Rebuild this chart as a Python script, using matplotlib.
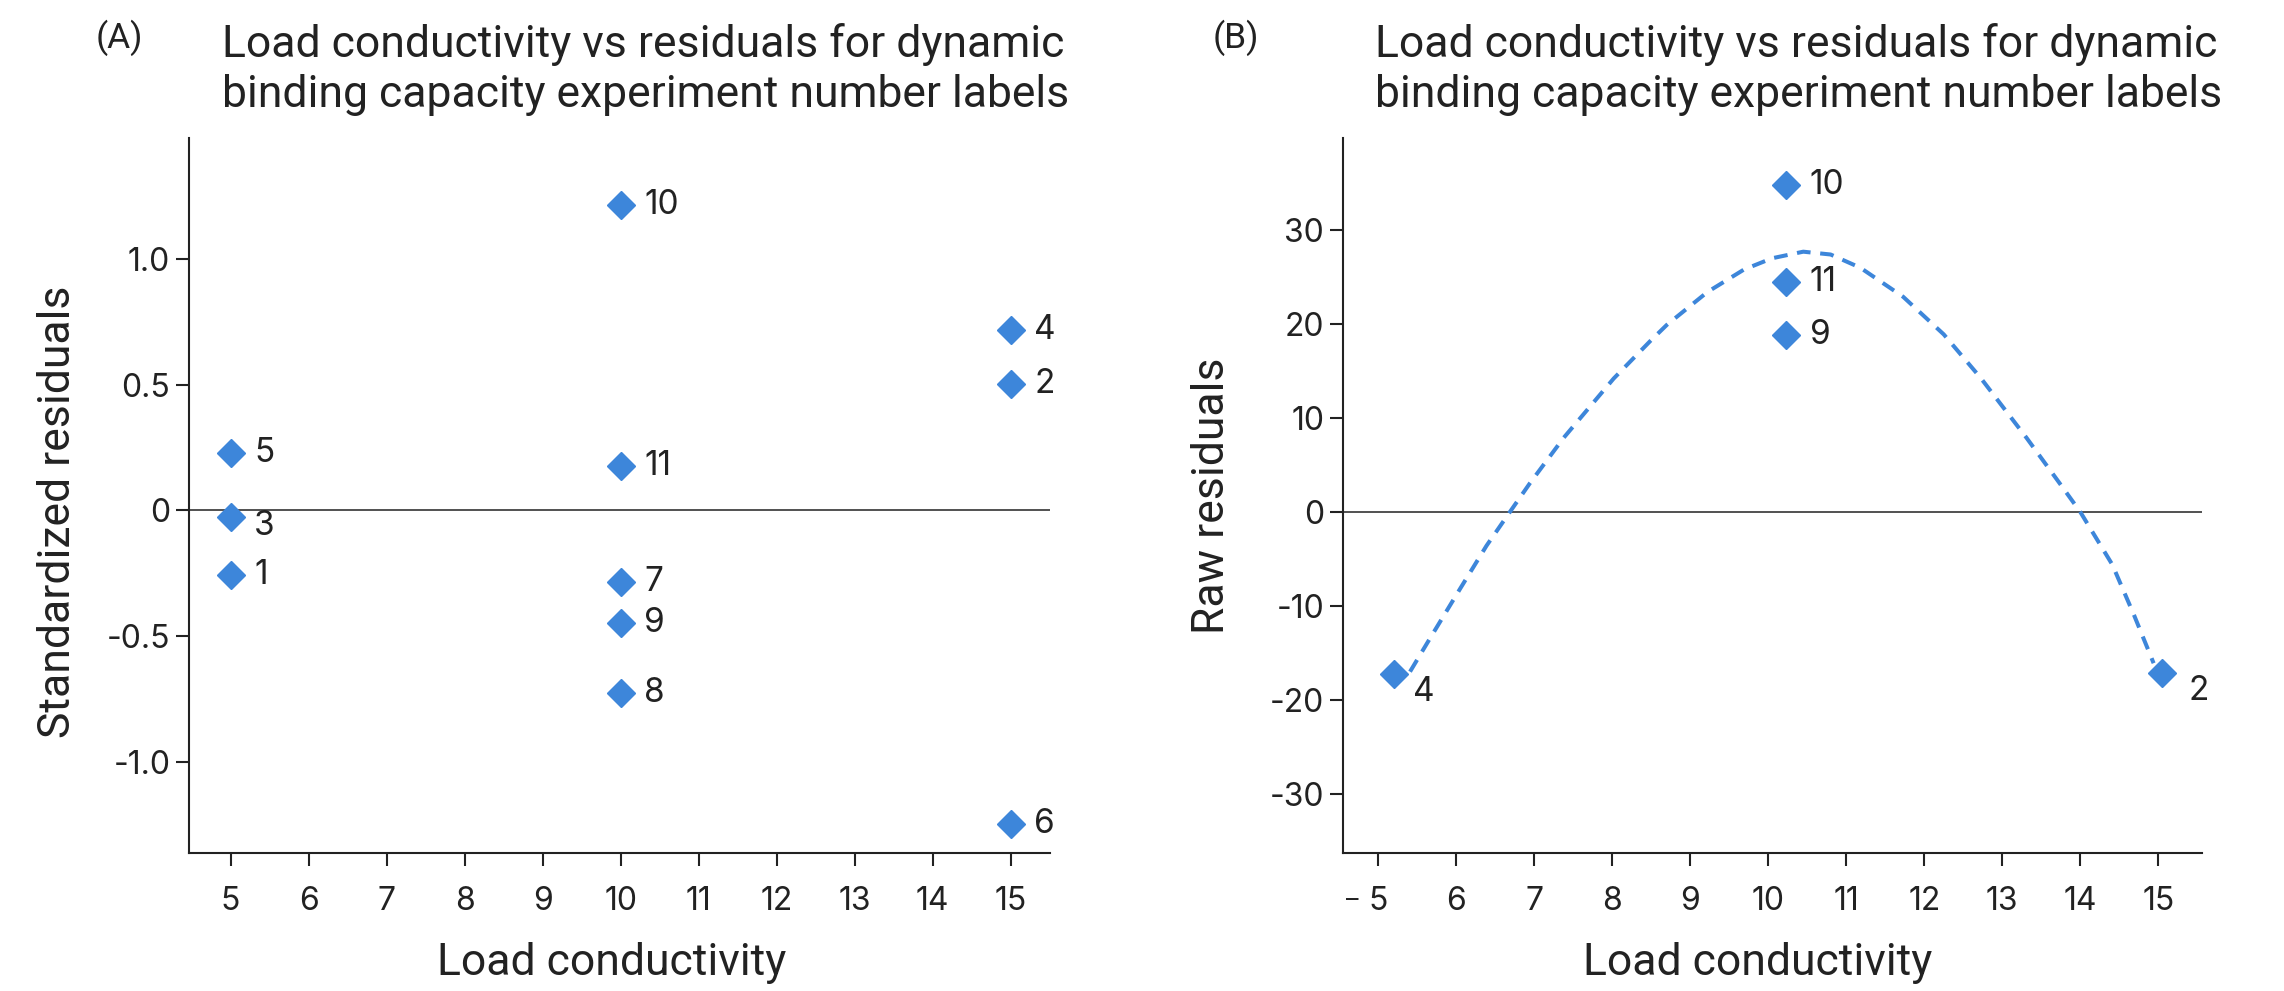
import numpy as np
import matplotlib
matplotlib.use("Agg")
import matplotlib.pyplot as plt

plt.rcParams['font.family'] = ['Roboto', 'DejaVu Sans']

# panel A: standardized residuals
a_x = [5, 5, 5, 10, 10, 10, 10, 10, 15, 15, 15]
a_y = [0.228, -0.025, -0.257, 1.214, 0.177, -0.287, -0.45, -0.728, 0.716, 0.501, -1.25]
a_labels = ["5", "3", "1", "10", "11", "7", "9", "8", "4", "2", "6"]

# panel B: raw residuals
b_x = [5.2, 10.23, 10.23, 10.23, 15.05]
b_y = [-17.2, 34.8, 24.5, 18.8, -17.1]
b_labels = ["4", "10", "11", "9", "2"]

# dashed curve in panel B
curve_x = [5.41, 5.67, 6.05, 6.39, 6.69, 6.95, 7.38, 8.02, 8.49, 8.70, 9.22, 9.69,
           10.05, 10.45, 10.8, 11.18, 11.73, 12.25, 12.72, 13.31, 13.74,
           14.0, 14.41, 14.69, 14.94]
curve_y = [-17.0, -13.4, -8.2, -3.6, 0.0, 3.1, 7.9, 14.2, 18.2, 19.9, 23.4, 25.8,
           27.0, 27.7, 27.4, 26.0, 22.9, 18.9, 14.3, 7.9, 3.0,
           0.0, -5.6, -11.0, -16.1]

x_ticks = list(range(5, 16))
a_yticks = [-1.0, -0.5, 0, 0.5, 1.0]
a_yticklabels = ["-1.0", "-0.5", "0", "0.5", "1.0"]
b_yticks = [-30, -20, -10, 0, 10, 20, 30]
b_yticklabels = ["-30", "-20", "-10", "0", "10", "20", "30"]

title = "Load conductivity vs residuals for dynamic\nbinding capacity experiment number labels"

blue = "#3d86da"
dark = "#222222"
num_font = ["Inter", "DejaVu Sans"]
W, H = 2284, 991

fig = plt.figure(figsize=(W / 100, H / 100), dpi=100)
axA = fig.add_axes([189 / W, 1 - 853 / H, 861 / W, 715 / H])
axB = fig.add_axes([1343 / W, 1 - 853 / H, 859 / W, 715 / H])


def style(ax, xlim, ylim, yticks, yticklabels, ylabel, ylab_y, xlab_x):
    ax.set_xlim(*xlim)
    ax.set_ylim(*ylim)
    ax.set_xticks(x_ticks)
    ax.set_xticklabels([str(t) for t in x_ticks], family=num_font)
    ax.set_yticks(yticks)
    ax.set_yticklabels(yticklabels, family=num_font)
    for s in ["top", "right"]:
        ax.spines[s].set_visible(False)
    for s in ["left", "bottom"]:
        ax.spines[s].set_linewidth(1.5)
        ax.spines[s].set_color(dark)
    ax.tick_params(axis="both", length=9.5, width=1.5, color=dark,
                   labelsize=23, labelcolor=dark)
    ax.tick_params(axis="x", pad=14)
    ax.tick_params(axis="y", pad=4)
    ax.axhline(0, color=dark, lw=1.1, zorder=1)
    ax.set_xlabel("Load conductivity", fontsize=32, color=dark)
    ax.set_ylabel(ylabel, fontsize=32, color=dark)
    ax.xaxis.set_label_coords(xlab_x, -0.125)
    ax.yaxis.set_label_coords(-0.128, ylab_y)


def annotate(ax, xs, ys, labels, nudges):
    for x, y, lab in zip(xs, ys, labels):
        dx, dy = nudges.get(lab, (17, 0))
        ax.annotate(lab, (x, y), xytext=(dx, dy), textcoords="offset points",
                    ha="left", va="center", fontsize=24, color=dark, family=num_font)


style(axA, (4.467, 15.505), (-1.364, 1.482), a_yticks, a_yticklabels,
      "Standardized residuals", 0.477, 0.491)
axA.plot(a_x, a_y, linestyle="none", marker="D", ms=14, color=blue, zorder=3)
annotate(axA, a_x, a_y, a_labels, {"3": (17, -7)})

style(axB, (4.551, 15.56), (-36.3, 39.8), b_yticks, b_yticklabels, "Raw residuals",
      0.5, 0.483)
axB.plot(curve_x, curve_y, color=blue, lw=2.9, dashes=(3.4, 2.4), zorder=2)
axB.plot(b_x, b_y, linestyle="none", marker="D", ms=14, color=blue, zorder=3)
annotate(axB, b_x, b_y, b_labels, {"4": (14, -13), "2": (19, -13)})

for px, letter in [(96, "(A)"), (1213, "(B)")]:
    fig.text(px / W, 1 - 20 / H, letter, fontsize=25.5, color=dark, va="top", ha="left")
for px in [222, 1375]:
    fig.text(px / W, 1 - 23 / H, title, fontsize=32, color=dark, va="top", ha="left",
             linespacing=1.25)

fig.text(1352 / W, 1 - 900 / H, "–", fontsize=18, color=dark, ha="center", va="center",
         family=num_font)

fig.savefig("out.png", dpi=100)
